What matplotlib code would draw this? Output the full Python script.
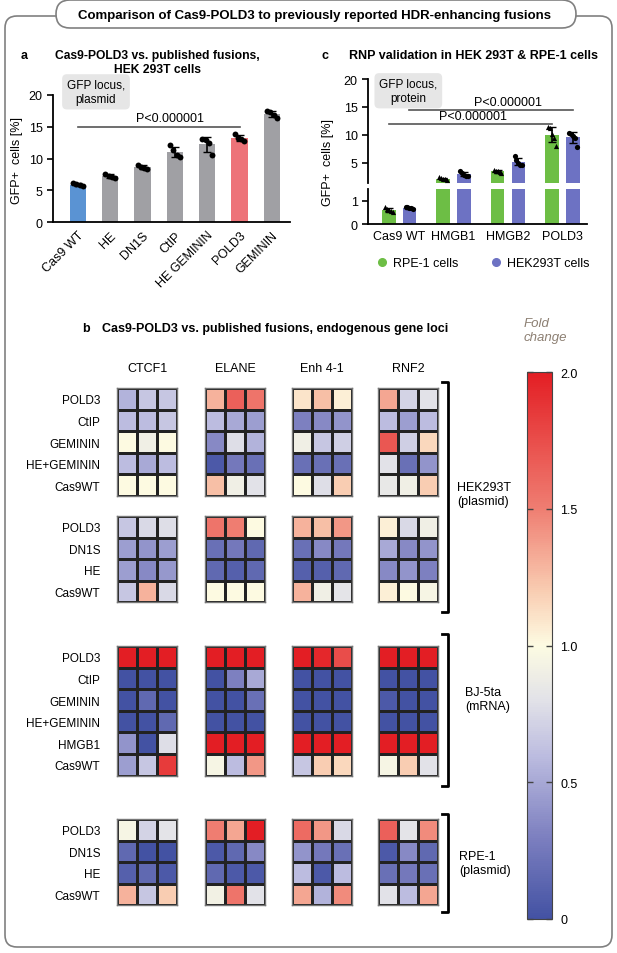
import numpy as np
import matplotlib
matplotlib.use('Agg')
import matplotlib.pyplot as plt
from matplotlib.colors import LinearSegmentedColormap, Normalize
from matplotlib.patches import FancyBboxPatch
from matplotlib.cm import ScalarMappable
from matplotlib.lines import Line2D

plt.rcParams['font.family'] = ['Liberation Sans', 'DejaVu Sans']

W, H = 617, 954  # размер в пикселях

# ---- панель a: данные ----
a_labels = ['Cas9 WT', 'HE', 'DN1S', 'CtIP', 'HE GEMININ', 'POLD3', 'GEMININ']
a_points = [
    [6.2, 6.0, 5.8, 5.6],
    [7.6, 7.3, 7.1, 6.9],
    [9.0, 8.7, 8.5, 8.3],
    [12.1, 11.3, 10.5, 10.3],
    [13.1, 12.9, 12.4, 10.5],
    [13.8, 13.3, 13.0, 12.7],
    [17.5, 17.3, 16.9, 16.3],
]
a_colors = ['#5A93D3', '#A0A0A4', '#A0A0A4', '#A0A0A4', '#A0A0A4', '#ED7379', '#A0A0A4']

# ---- панель c: данные ----
c_groups = ['Cas9 WT', 'HMGB1', 'HMGB2', 'POLD3']
c_rpe = [
    [0.75, 0.65, 0.6, 0.55, 0.5],
    [2.4, 2.3, 2.2, 2.1, 2.0],
    [3.8, 3.6, 3.5, 3.3, 3.2],
    [11.4, 11.2, 10.2, 9.5, 8.0],
]
c_hek = [
    [0.75, 0.72, 0.7, 0.68, 0.65],
    [3.6, 3.2, 2.9, 2.7, 2.6],
    [6.2, 5.5, 5.0, 4.7, 4.6],
    [10.4, 10.2, 9.8, 9.5, 7.8],
]
c_series = ['RPE-1 cells', 'HEK293T cells']

# ---- панель b: тепловая карта (строки x (4 гена * 3 повтора)) ----
genes = ['CTCF1', 'ELANE', 'Enh 4-1', 'RNF2']
hek1_rows = ['POLD3', 'CtIP', 'GEMININ', 'HE+GEMININ', 'Cas9WT']
hek1_vals = np.array([
    [0.55, 0.65, 0.65, 1.30, 1.65, 1.55, 1.10, 1.25, 1.05, 1.35, 0.72, 0.80],
    [0.60, 0.60, 0.65, 0.60, 0.50, 0.45, 0.30, 0.35, 0.40, 0.60, 0.45, 0.60],
    [1.00, 0.90, 1.00, 0.35, 0.78, 0.55, 0.90, 0.65, 0.70, 1.70, 0.70, 1.15],
    [0.60, 0.50, 0.60, 0.05, 0.25, 0.20, 0.20, 0.20, 0.20, 0.80, 0.20, 0.40],
    [1.00, 1.00, 1.00, 1.25, 0.90, 0.80, 1.00, 0.78, 1.20, 0.85, 0.90, 1.20],
])
hek2_rows = ['POLD3', 'DN1S', 'HE', 'Cas9WT']
hek2_vals = np.array([
    [0.65, 0.75, 0.78, 1.55, 1.50, 1.00, 1.30, 1.25, 1.40, 1.05, 0.75, 0.90],
    [0.45, 0.40, 0.45, 0.20, 0.25, 0.15, 0.20, 0.35, 0.25, 0.50, 0.35, 0.40],
    [0.45, 0.35, 0.42, 0.15, 0.10, 0.15, 0.10, 0.10, 0.15, 0.35, 0.40, 0.30],
    [0.65, 1.30, 0.75, 1.00, 1.00, 1.00, 1.30, 0.90, 0.82, 1.05, 1.00, 0.95],
])
bj_rows = ['POLD3', 'CtIP', 'GEMININ', 'HE+GEMININ', 'HMGB1', 'Cas9WT']
bj_vals = np.array([
    [2.00, 2.00, 2.00, 2.00, 2.00, 2.00, 2.00, 1.95, 1.75, 2.00, 2.00, 2.00],
    [0.00, 0.00, 0.00, 0.00, 0.30, 0.50, 0.00, 0.00, 0.00, 0.00, 0.00, 0.00],
    [0.00, 0.15, 0.00, 0.00, 0.00, 0.20, 0.00, 0.00, 0.00, 0.05, 0.00, 0.00],
    [0.00, 0.00, 0.15, 0.00, 0.00, 0.00, 0.00, 0.00, 0.00, 0.00, 0.00, 0.00],
    [0.40, 0.00, 0.78, 2.00, 2.00, 2.00, 2.00, 2.00, 2.00, 2.00, 2.00, 2.00],
    [0.45, 0.65, 1.85, 0.95, 0.60, 1.40, 0.65, 1.20, 1.15, 0.95, 1.20, 0.80],
])
rpe_rows = ['POLD3', 'DN1S', 'HE', 'Cas9WT']
rpe_vals = np.array([
    [0.95, 0.72, 0.82, 1.50, 1.35, 2.00, 1.60, 1.40, 0.75, 1.65, 0.82, 1.45],
    [0.15, 0.00, 0.00, 0.05, 0.15, 0.35, 0.40, 0.25, 0.20, 0.05, 0.35, 0.15],
    [0.10, 0.15, 0.05, 0.15, 0.05, 0.05, 0.60, 0.05, 0.60, 0.20, 0.25, 0.20],
    [1.30, 0.65, 1.20, 0.92, 1.55, 0.80, 1.35, 0.55, 1.45, 0.80, 0.60, 1.35],
])
cbar_ticks = [0, 0.5, 1.0, 1.5, 2.0]
cbar_labels = ['0', '0.5', '1.0', '1.5', '2.0']

cmap = LinearSegmentedColormap.from_list('fold', [
    (0.0, '#4352A3'), (0.15, '#7D80C0'), (0.3, '#BDBDE0'), (0.4, '#E2E2E8'),
    (0.5, '#FDFBE2'), (0.6, '#F9CDB2'), (0.75, '#EF7E72'), (1.0, '#E31E24')])
norm = Normalize(0, 2)


def px_axes(fig, x0, y0, x1, y1):
    # оси по пиксельным координатам (от верхнего левого угла)
    return fig.add_axes([x0 / W, 1 - y1 / H, (x1 - x0) / W, (y1 - y0) / H])


fig = plt.figure(figsize=(W / 100, H / 100), dpi=100)

# фоновая ось для рамки, подписей, скобок
bg = fig.add_axes([0, 0, 1, 1])
bg.set_xlim(0, W)
bg.set_ylim(H, 0)
bg.axis('off')
bg.add_patch(FancyBboxPatch((5, 17), 607, 931, boxstyle='round,pad=0,rounding_size=12',
                            fc='white', ec='#808080', lw=1.2))
bg.add_patch(FancyBboxPatch((56, 1), 520, 28, boxstyle='round,pad=0,rounding_size=14',
                            fc='white', ec='#808080', lw=1.2))
bg.text(314, 15.5, 'Comparison of Cas9-POLD3 to previously reported HDR-enhancing fusions',
        ha='center', va='center', fontsize=9.5, fontweight='bold')

# ---- панель a ----
bg.text(21, 56, 'a', ha='left', va='center', fontsize=9, fontweight='bold')
bg.text(157, 63, 'Cas9-POLD3 vs. published fusions,\nHEK 293T cells', ha='center', va='center',
        fontsize=8.7, fontweight='bold', linespacing=1.15)
axa = px_axes(fig, 53, 96, 290, 223)
pos = np.arange(len(a_labels))
a_mean = [np.mean(p) for p in a_points]
a_sd = [np.std(p, ddof=1) for p in a_points]
axa.bar(pos, a_mean, width=0.5, color=a_colors, zorder=1)
axa.errorbar(pos, a_mean, yerr=a_sd, fmt='none', ecolor='black', elinewidth=1.2, capsize=3, zorder=2)
jit = np.array([-0.15, -0.05, 0.05, 0.15])
for i, p in enumerate(a_points):
    axa.scatter(i + jit, p, s=18, color='black', zorder=3, lw=0)
axa.plot([0, 5], [15, 15], color='#555555', lw=1.2)
axa.text(2.85, 15.4, 'P<0.000001', ha='center', va='bottom', fontsize=9)
axa.text(0.56, 20.5, 'GFP locus,\nplasmid', ha='center', va='center', fontsize=8.5, clip_on=False,
         bbox=dict(boxstyle='round,pad=0.4', fc='#E6E6E6', ec='none'))
axa.set_xlim(-0.77, 6.56)
axa.set_ylim(0, 20)
axa.set_yticks([0, 5, 10, 15, 20])
axa.set_xticks(pos, a_labels, rotation=45, ha='right', rotation_mode='anchor')
axa.tick_params(axis='x', length=0, pad=5, labelsize=9)
axa.tick_params(axis='y', length=4, width=1.2, labelsize=9)
for s in ['top', 'right']:
    axa.spines[s].set_visible(False)
for s in ['left', 'bottom']:
    axa.spines[s].set_linewidth(1.3)
fig.text(17 / W, 1 - 160 / H, 'GFP+  cells [%]', rotation=90, ha='center', va='center', fontsize=9)

# ---- панель c ----
bg.text(322, 56, 'c', ha='left', va='center', fontsize=9, fontweight='bold')
bg.text(349, 56, 'RNP validation in HEK 293T & RPE-1 cells', ha='left', va='center',
        fontsize=9, fontweight='bold')
up = px_axes(fig, 368, 80, 587, 184)
lo = px_axes(fig, 368, 190, 587, 225)
gpos = np.arange(len(c_groups))
off, bw = 0.19, 0.25
green, blue = '#6DBE45', '#6D72C3'
for ax in (up, lo):
    for data, sign, col, mk in ((c_rpe, -1, green, '^'), (c_hek, 1, blue, 'o')):
        m = [np.mean(p) for p in data]
        sd = [np.std(p, ddof=1) for p in data]
        x = gpos + sign * off
        ax.bar(x, m, width=bw, color=col, zorder=1)
        ax.errorbar(x, m, yerr=sd, fmt='none', ecolor='black', elinewidth=1.2, capsize=3, zorder=2)
        for i, p in enumerate(data):
            ax.scatter(x[i] + np.linspace(-0.07, 0.07, len(p)), p, s=14, marker=mk,
                       color='black', lw=0, zorder=3)
    ax.set_xlim(-0.57, 3.45)
    ax.spines['top'].set_visible(False)
    ax.spines['right'].set_visible(False)
    ax.spines['left'].set_linewidth(1.3)
    ax.tick_params(axis='y', length=4, width=1.2, labelsize=9)
up.set_ylim(1.4, 20)
up.set_yticks([5, 10, 15, 20])
up.spines['bottom'].set_visible(False)
up.set_xticks([])
lo.set_ylim(0, 1.5)
lo.set_yticks([0, 1])
lo.spines['bottom'].set_linewidth(1.3)
lo.set_xticks(gpos, c_groups)
lo.tick_params(axis='x', length=0, pad=4, labelsize=9)
up.plot([off, 3 + off], [14.5, 14.5], color='#555555', lw=1.2)
up.text(2.0, 14.8, 'P<0.000001', ha='center', va='bottom', fontsize=9)
up.plot([-off, 3 - off], [12, 12], color='#555555', lw=1.2)
up.text(1.36, 12.3, 'P<0.000001', ha='center', va='bottom', fontsize=9)
up.text(0.17, 17.9, 'GFP locus,\nprotein', ha='center', va='center', fontsize=8.5,
        bbox=dict(boxstyle='round,pad=0.4', fc='#E6E6E6', ec='none'))
fig.text(328 / W, 1 - 162 / H, 'GFP+  cells [%]', rotation=90, ha='center', va='center', fontsize=9)
handles = [Line2D([], [], marker='o', ls='none', color=green, markersize=5.5),
           Line2D([], [], marker='o', ls='none', color=blue, markersize=5.5)]
fig.legend(handles, c_series, loc='center', bbox_to_anchor=(483 / W, 1 - 264 / H), ncol=2,
           frameon=False, fontsize=9, handlelength=0.8, handletextpad=0.5, columnspacing=2.6)

# ---- панель b ----
bg.text(82, 329, 'b', ha='left', va='center', fontsize=9, fontweight='bold')
bg.text(102, 329, 'Cas9-POLD3 vs. published fusions, endogenous gene loci', ha='left',
        va='center', fontsize=9, fontweight='bold')
bg.text(524, 331, 'Fold\nchange', ha='left', va='center', fontsize=9.5, style='italic',
        color='#8C7F72', linespacing=1.3)

gene_x = [117, 205, 292, 378]
block_w = 60
row_h = 21.6
sections = [(hek1_rows, hek1_vals, 389), (hek2_rows, hek2_vals, 517),
            (bj_rows, bj_vals, 647), (rpe_rows, rpe_vals, 820)]
for rows, vals, top in sections:
    n = len(rows)
    for g in range(len(genes)):
        ax = px_axes(fig, gene_x[g], top, gene_x[g] + block_w, top + n * row_h)
        ax.pcolormesh(vals[:, g * 3:(g + 1) * 3], cmap=cmap, norm=norm,
                      edgecolors='#222222', linewidth=0.8)
        ax.set_ylim(n, 0)
        ax.set_xlim(0, 3)
        ax.set_xticks([])
        for s in ax.spines.values():
            s.set_edgecolor('#777777')
            s.set_linewidth(1.0)
        if g == 0:
            ax.set_yticks(np.arange(n) + 0.5, rows)
            ax.tick_params(axis='y', length=0, pad=12, labelsize=8.5)
        else:
            ax.set_yticks([])
for g, name in enumerate(genes):
    bg.text(gene_x[g] + block_w / 2, 369, name, ha='center', va='center', fontsize=9)

# скобки групп
for y0, y1, lab, lx, ly in ((383, 613, 'HEK293T\n(plasmid)', 457, 495),
                            (635, 787, 'BJ-5ta\n(mRNA)', 465, 700),
                            (815, 913, 'RPE-1\n(plasmid)', 459, 864)):
    bg.plot([442, 448, 448, 442], [y0, y0, y1, y1], color='black', lw=2)
    bg.text(lx, ly, lab, ha='left', va='center', fontsize=9, linespacing=1.2)

# шкала цветов
cax = px_axes(fig, 527, 373, 552, 920)
cb = fig.colorbar(ScalarMappable(norm=norm, cmap=cmap), cax=cax)
cb.set_ticks(cbar_ticks, labels=cbar_labels)
cb.outline.set_edgecolor('#444444')
cax.tick_params(axis='y', direction='in', length=4, width=1, left=True, right=True,
                labelsize=9, pad=6, color='#444444')

fig.savefig('out.png', dpi=100)
